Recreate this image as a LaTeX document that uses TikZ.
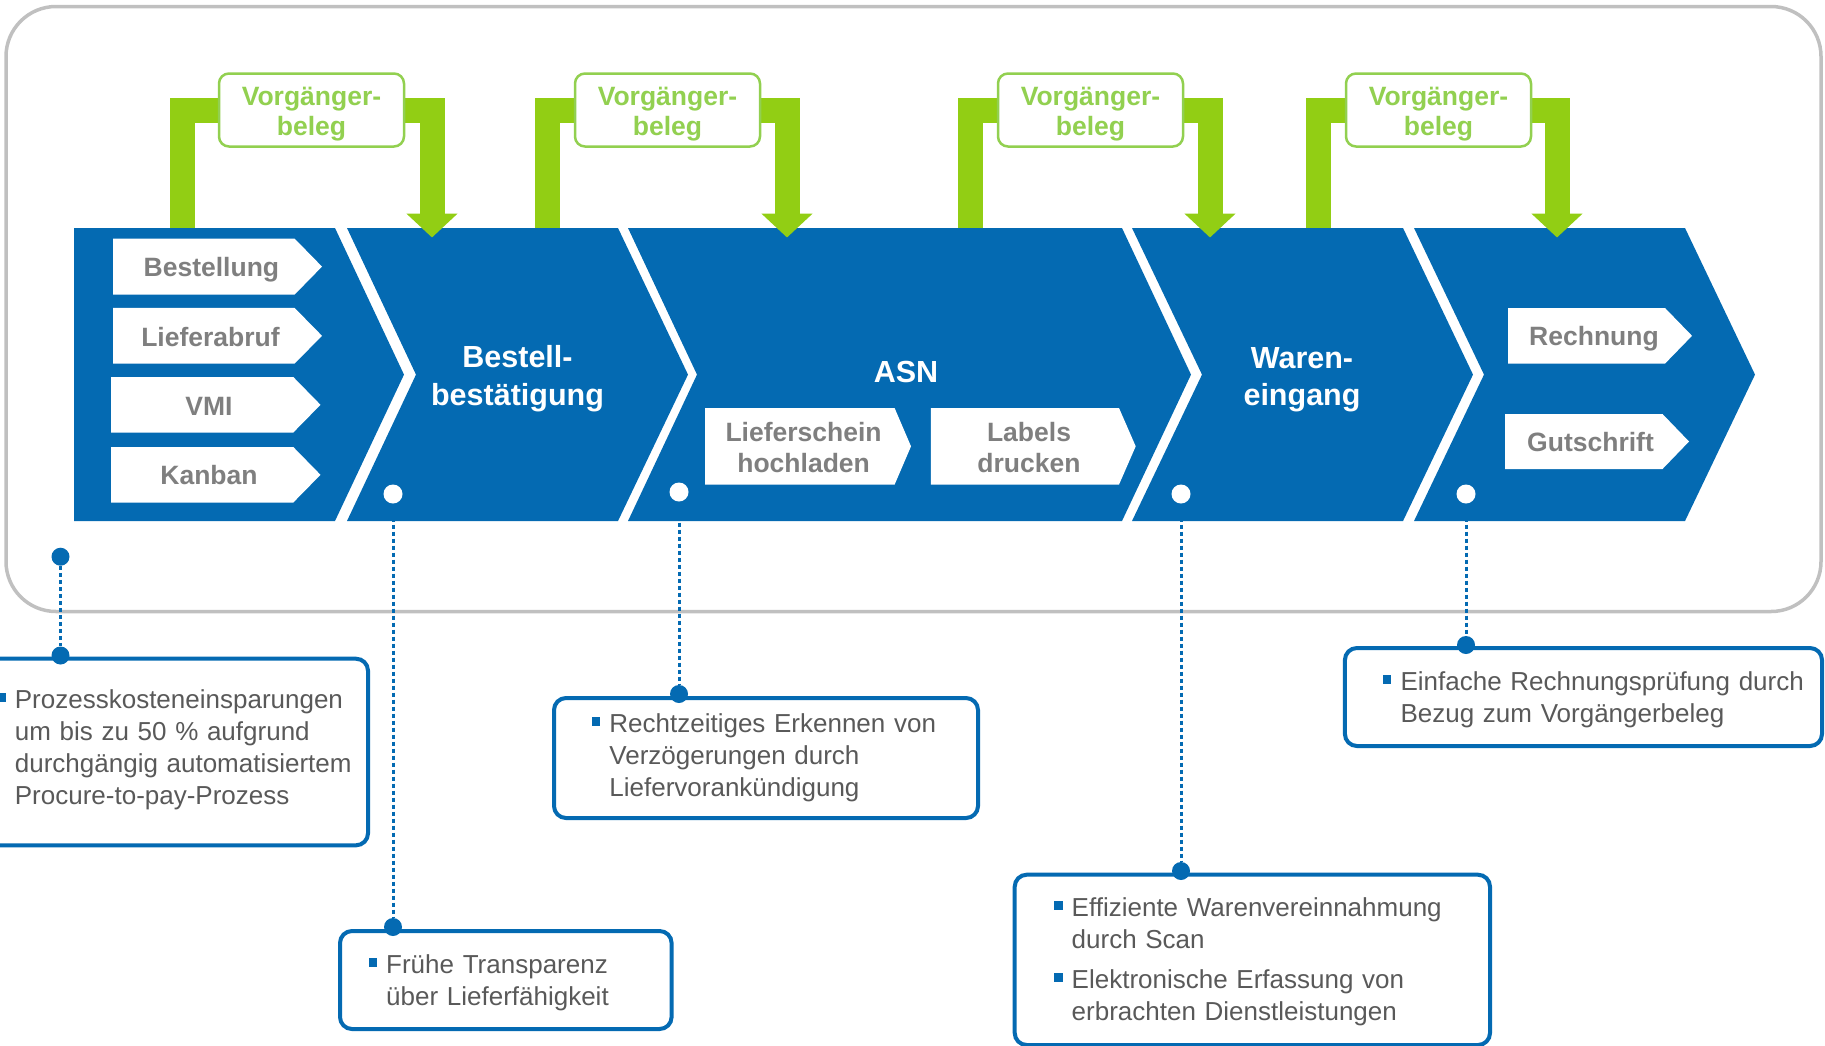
\documentclass[tikz,border=0pt]{standalone}
\usepackage{fontspec}
\setmainfont{Liberation Sans}
\usetikzlibrary{arrows.meta}
\pgfdeclarelayer{bg}
\pgfsetlayers{bg,main}
\definecolor{bandblue}{RGB}{4,106,178}
\definecolor{bargreen}{RGB}{146,206,20}
\definecolor{lightgreen}{RGB}{146,208,80}
\definecolor{taggrey}{RGB}{127,127,127}
\definecolor{txtgrey}{RGB}{89,89,89}
\definecolor{framegrey}{RGB}{192,192,192}
\begin{document}
\begin{tikzpicture}[x=1pt,y=-1pt,
  band/.style={fill=bandblue},
  tagshape/.style={fill=white},
  tagtext/.style={font=\bfseries\fontsize{26.5}{31}\selectfont, text=taggrey, inner sep=0pt, text width=220pt, align=center, anchor=base},
  titletext/.style={font=\bfseries\fontsize{30.5}{37.5}\selectfont, text=white, inner sep=0pt, text width=260pt, align=center, anchor=base},
  vbox/.style={draw=lightgreen, line width=2.5pt, rounded corners=10pt, fill=white, minimum width=185pt, minimum height=73pt, inner sep=0pt},
  vtext/.style={font=\bfseries\fontsize{26.5}{30.7}\selectfont, text=lightgreen, inner sep=0pt, text width=185pt, align=center, anchor=base},
  gbar/.style={draw=bargreen, line width=25pt},
  garrow/.style={gbar, -{Triangle[length=24pt,width=50pt]}},
  infobox/.style={draw=bandblue, line width=4pt, rounded corners=12pt, inner sep=0pt, anchor=north west},
  infotext/.style={font=\fontsize{26}{32}\selectfont, text=txtgrey, inner sep=0pt, text width=420pt, align=left, anchor=base west},
  bulletsq/.style={fill=bandblue},
  wdot/.style={circle, fill=white, minimum size=19pt, inner sep=0pt},
  bdot/.style={circle, fill=bandblue, minimum size=18pt, inner sep=0pt},
  dotline/.style={draw=bandblue, line width=3pt, dash pattern=on 4pt off 3pt}
]
\useasboundingbox (0,0) rectangle (1825,1045);
\clip (0,0) rectangle (1825,1045);

% Vorgaengerbeleg boxes
\node[vbox] (v1) at (311.5,110) {};
\node[vbox] (v2) at (667.5,110) {};
\node[vbox] (v3) at (1090.5,110) {};
\node[vbox] (v4) at (1438.5,110) {};
\node[vtext] (v1t) at (311.5,105) {Vorgänger-\\beleg};
\node[vtext] (v2t) at (667.5,105) {Vorgänger-\\beleg};
\node[vtext] (v3t) at (1090.5,105) {Vorgänger-\\beleg};
\node[vtext] (v4t) at (1438.5,105) {Vorgänger-\\beleg};

% connector end points on the band
\coordinate (l1) at (182.5,228);  \coordinate (r1) at (432,237.5);
\coordinate (l2) at (547.5,228);  \coordinate (r2) at (787,237.5);
\coordinate (l3) at (970.5,228);  \coordinate (r3) at (1210,237.5);
\coordinate (l4) at (1318.5,228); \coordinate (r4) at (1557,237.5);

\begin{pgfonlayer}{bg}
  % outer frame
  \draw[framegrey, line width=3.5pt, rounded corners=50pt] (6,6.5) rectangle (1821,611.5);
  % chevron band
  \fill[band] (74,228) -- (335,228) -- (404,374.6) -- (335,521) -- (74,521) -- cycle;
  \fill[band] (347,228) -- (618,228) -- (688,374.6) -- (618,521) -- (347,521) -- (416,374.6) -- cycle;
  \fill[band] (628,228) -- (1122,228) -- (1191,374.6) -- (1122,521) -- (628,521) -- (697,374.6) -- cycle;
  \fill[band] (1132,228) -- (1403,228) -- (1473,374.6) -- (1403,521) -- (1132,521) -- (1202,374.6) -- cycle;
  \fill[band] (1414,228) -- (1685,228) -- (1755,374.6) -- (1685,521) -- (1414,521) -- (1484,374.6) -- cycle;
  % green brackets
  \draw[gbar] (l1) |- (v1.west);
  \draw[garrow] (v1.east) -| (r1);
  \draw[gbar] (l2) |- (v2.west);
  \draw[garrow] (v2.east) -| (r2);
  \draw[gbar] (l3) |- (v3.west);
  \draw[garrow] (v3.east) -| (r3);
  \draw[gbar] (l4) |- (v4.west);
  \draw[garrow] (v4.east) -| (r4);
\end{pgfonlayer}

% white tags
\fill[tagshape] (113,238.6) -- (294.6,238.6) -- (322,266.6) -- (294.6,294.6) -- (113,294.6) -- cycle;
\fill[tagshape] (113,307.9) -- (294.6,307.9) -- (322,335.8) -- (294.6,363.6) -- (113,363.6) -- cycle;
\fill[tagshape] (111,377) -- (293.3,377) -- (320.5,404.8) -- (293.3,432.5) -- (111,432.5) -- cycle;
\fill[tagshape] (111,447) -- (293.3,447) -- (320.5,474.8) -- (293.3,502.5) -- (111,502.5) -- cycle;
\fill[tagshape] (705,408) -- (894.6,408) -- (911,446.3) -- (894.6,484.6) -- (705,484.6) -- cycle;
\fill[tagshape] (930.8,408) -- (1119,408) -- (1135.7,446.3) -- (1119,484.6) -- (930.8,484.6) -- cycle;
\fill[tagshape] (1508,308) -- (1665,308) -- (1692,335.8) -- (1665,363.6) -- (1508,363.6) -- cycle;
\fill[tagshape] (1505,414) -- (1662.5,414) -- (1689,441.5) -- (1662.5,469) -- (1505,469) -- cycle;

\node[tagtext] (tBest) at (211.4,276.8) {Bestellung};
\node[tagtext] (tLief) at (210.5,346) {Lieferabruf};
\node[tagtext] (tVMI) at (209,415) {VMI};
\node[tagtext] (tKan) at (209,484.6) {Kanban};
\node[tagtext] (tLS) at (803.6,441) {Lieferschein\\hochladen};
\node[tagtext] (tLab) at (1029,441) {Labels\\drucken};
\node[tagtext] (tRe) at (1594,345.7) {Rechnung};
\node[tagtext] (tGu) at (1590.5,451.8) {Gutschrift};

% titles
\node[titletext] (tBB) at (517.5,367.9) {Bestell-\\bestätigung};
\node[titletext] (tASN) at (906,382) {ASN};
\node[titletext] (tWE) at (1302,368) {Waren-\\eingang};

% info boxes
\node[infobox, minimum width=386pt, minimum height=186.6pt] (bxA) at (-20,656.7) {};
\node[infobox, minimum width=331.6pt, minimum height=98pt] (bxF) at (338,929) {};
\node[infobox, minimum width=424pt, minimum height=120pt] (bxB) at (552,696) {};
\node[infobox, minimum width=475.3pt, minimum height=170.3pt] (bxC) at (1012.7,872.7) {};
\node[infobox, minimum width=477.1pt, minimum height=98pt] (bxD) at (1342.9,646) {};

% bullets
\fill[bulletsq] (-2.8,692.6) rectangle +(8.5,9);
\fill[bulletsq] (368.5,957.6) rectangle +(8.5,9);
\fill[bulletsq] (591.7,717) rectangle +(8.5,9);
\fill[bulletsq] (1054,901) rectangle +(8.5,9);
\fill[bulletsq] (1054,972.6) rectangle +(8.5,9);
\fill[bulletsq] (1382.9,675) rectangle +(8.5,9);

\node[infotext] (xA) at (14.7,708.3) {Prozesskosteneinsparungen\\um bis zu 50~\% aufgrund\\durchgängig automatisiertem\\Procure-to-pay-Prozess};
\node[infotext] (xF) at (386,973.3) {Frühe Transparenz\\über Lieferfähigkeit};
\node[infotext] (xB) at (609.2,732.7) {Rechtzeitiges Erkennen von\\Verzögerungen durch\\Liefervorankündigung};
\node[infotext] (xC) at (1071.5,916.7) {Effiziente Warenvereinnahmung\\durch Scan\\[8pt]Elektronische Erfassung von\\erbrachten Dienstleistungen};
\node[infotext] (xD) at (1400.4,690.7) {Einfache Rechnungsprüfung durch\\Bezug zum Vorgängerbeleg};

% dots
\node[wdot] (w1) at (393,494) {};
\node[wdot] (w2) at (679,492) {};
\node[wdot] (w3) at (1181,494) {};
\node[wdot] (w4) at (1466,494) {};
\node[bdot] (s0) at (60.5,556.7) {};
\node[bdot] (bA) at (60.5,655.5) {};
\node[bdot] (bF) at (393,927) {};
\node[bdot] (bB) at (679,694) {};
\node[bdot] (bC) at (1181,871) {};
\node[bdot] (bD) at (1466,645) {};

% dotted connectors
\draw[dotline] (s0) -- (bA);
\draw[dotline] (w1) -- (bF);
\draw[dotline] (w2) -- (bB);
\draw[dotline] (w3) -- (bC);
\draw[dotline] (w4) -- (bD);
\end{tikzpicture}
\end{document}
